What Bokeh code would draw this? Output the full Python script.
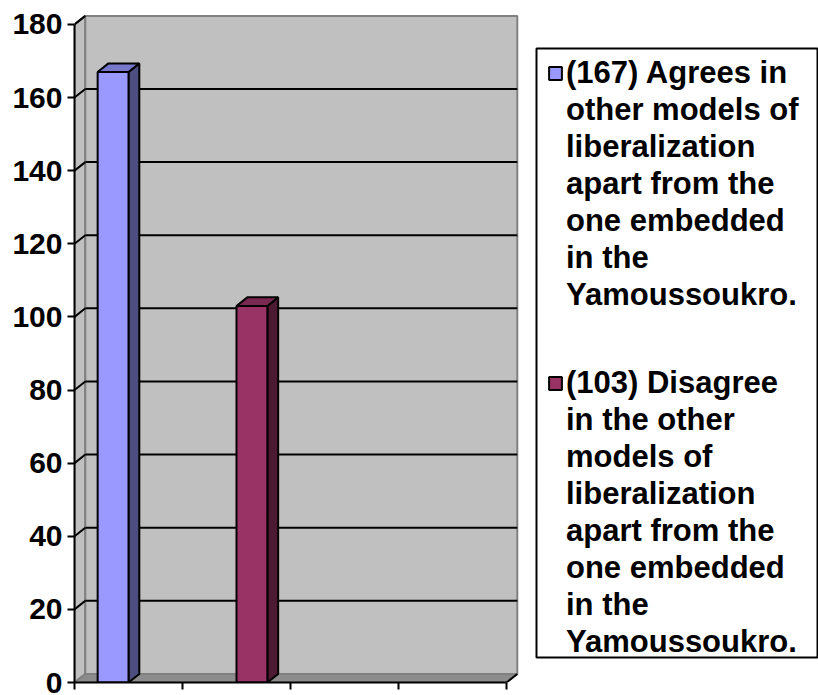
import math
from bokeh.plotting import figure
from bokeh.models import (Range1d, LinearAxis, FixedTicker, Legend, LegendItem,
                          ColumnDataSource, BoxAnnotation)
from bokeh.embed import file_html
from bokeh.resources import INLINE

# ---------------- data ----------------
categories = ["", "", "", ""]
series_labels = [
    "(167) Agrees in\nother models of\nliberalization\napart from the\none embedded\nin the\nYamoussoukro.",
    "(103) Disagree\nin the other\nmodels of\nliberalization\napart from the\none embedded\nin the\nYamoussoukro.",
]
agree_values = [167, None, None, None]
disagree_values = [None, 103, None, None]
y_ticks = [0, 20, 40, 60, 80, 100, 120, 140, 160, 180]

# ---------------- style / layout ----------------
FRONT = ["#9999FF", "#993366"]
SIDE = ["#4D4D80", "#4D1A33"]
TOP = ["#7777CC", "#7A2952"]
WALL = "#C0C0C0"
FLOOR = "#8C8C8C"
EDGE = "#808080"
FONT = "Liberation Sans"
DX = 0.10     # depth offset, category units
DY = 2.35     # depth offset, value units
N_SERIES = 2
GAP = 1.5     # gap width relative to bar width
BAR_W = 1.0 / (N_SERIES + GAP)
FRAME_L, FRAME_T, FRAME_B, FIG_W, FIG_H = 74, 13, 682, 818, 695
PX_PER_CAT = 108
Y_TOP = 183.0

y_max = y_ticks[-1]
n_cat = len(categories)
frame_w = FIG_W - FRAME_L
frame_h = FRAME_B - FRAME_T


def px_x(px):
    return (px - FRAME_L) / PX_PER_CAT


def px_y(py):
    return (FRAME_B - py) * Y_TOP / frame_h


p = figure(width=FIG_W, height=FIG_H, output_backend="svg", toolbar_location=None,
           x_range=Range1d(0, frame_w / PX_PER_CAT), y_range=Range1d(0, Y_TOP),
           min_border_left=FRAME_L, min_border_right=0, min_border_top=FRAME_T,
           min_border_bottom=FIG_H - FRAME_B, x_axis_type=None, y_axis_type=None)
p.outline_line_color = None
p.background_fill_color = "white"
p.border_fill_color = "white"
p.xgrid.visible = False
p.ygrid.visible = False

# side wall (left)
p.patch([0, DX, DX, 0], [0, DY, y_max + DY, y_max], fill_color=WALL,
        line_color=EDGE, line_width=2)
# back wall
p.patch([DX, n_cat + DX, n_cat + DX, DX], [DY, DY, y_max + DY, y_max + DY],
        fill_color=WALL, line_color=EDGE, line_width=2)
# floor
p.patch([0, n_cat, n_cat + DX, DX], [0, 0, DY, DY], fill_color=FLOOR,
        line_color=EDGE, line_width=2)
p.segment(x0=[n_cat], y0=[0], x1=[n_cat + DX], y1=[DY], line_color="black", line_width=2)

# gridlines on back wall and connectors on side wall
grid_vals = [t for t in y_ticks if 0 < t < y_max]
p.segment(x0=[DX] * len(grid_vals), y0=[v + DY for v in grid_vals],
          x1=[n_cat + DX] * len(grid_vals), y1=[v + DY for v in grid_vals],
          line_color="black", line_width=2)
conn_vals = [t for t in y_ticks if t > 0]
p.segment(x0=[0] * len(conn_vals), y0=conn_vals,
          x1=[DX] * len(conn_vals), y1=[v + DY for v in conn_vals],
          line_color="black", line_width=2)

# invisible renderer used for legend continuation lines
blank = p.scatter(x=[], y=[], size=1, fill_alpha=0, line_alpha=0)

# legend frame box
p.add_layout(BoxAnnotation(left=px_x(536), right=px_x(817), top=px_y(48), bottom=px_y(657),
                           fill_color="white", fill_alpha=1, line_color="black",
                           line_alpha=1, line_width=2))

# bars
bar_renderers = []
for k, vals in enumerate([agree_values, disagree_values]):
    lefts, rights, tops = [], [], []
    for i, v in enumerate(vals):
        if v is None:
            continue
        l = i + GAP * BAR_W / 2 + k * BAR_W
        lefts.append(l)
        rights.append(l + BAR_W)
        tops.append(v)
    p.patches([[r, r + DX, r + DX, r] for r in rights],
              [[0, DY, t + DY, t] for t, r in zip(tops, rights)],
              fill_color=SIDE[k], line_color="black", line_width=2)
    p.patches([[l, l + DX, r + DX, r] for l, r in zip(lefts, rights)],
              [[t, t + DY, t + DY, t] for t in tops],
              fill_color=TOP[k], line_color="black", line_width=2)
    src = ColumnDataSource(dict(x=[(l + r) / 2 for l, r in zip(lefts, rights)], top=tops))
    rnd = p.vbar(x="x", top="top", bottom=0, width=BAR_W, source=src,
                 fill_color=FRONT[k], line_color="black", line_width=2)
    bar_renderers.append(rnd)

# axes
yaxis = LinearAxis(ticker=FixedTicker(ticks=y_ticks), bounds=(0, y_max))
yaxis.axis_line_width = 2
yaxis.major_tick_line_width = 2
yaxis.major_tick_out = 7
yaxis.major_tick_in = 0
yaxis.minor_tick_line_color = None
yaxis.major_label_standoff = 5
yaxis.major_label_text_font = FONT
yaxis.major_label_text_font_style = "bold"
yaxis.major_label_text_font_size = "30px"
yaxis.major_label_text_color = "black"
p.add_layout(yaxis, "left")

xaxis = LinearAxis(ticker=FixedTicker(ticks=list(range(n_cat + 1))), bounds=(0, n_cat))
xaxis.axis_line_width = 2
xaxis.major_tick_line_width = 2
xaxis.major_tick_out = 7
xaxis.major_tick_in = 0
xaxis.minor_tick_line_color = None
xaxis.major_label_standoff = 0
xaxis.major_label_text_font_size = "1px"
xaxis.major_label_overrides = {i: " " for i in range(n_cat + 1)}
p.add_layout(xaxis, "below")

# legends: one per series, each line its own item so the swatch sits on the first line
legend_locs = [(547 - FRAME_L, FRAME_B - 313), (547 - FRAME_L, FRAME_B - 660)]
for k, rnd in enumerate(bar_renderers):
    lines = series_labels[k].split("\n")
    items = [LegendItem(label=lines[0], renderers=[rnd])]
    items += [LegendItem(label=ln, renderers=[blank]) for ln in lines[1:]]
    lg = Legend(items=items, location=legend_locs[k])
    lg.label_text_font = FONT
    lg.label_text_font_style = "bold"
    lg.label_text_font_size = "31px"
    lg.label_text_color = "black"
    lg.label_height = 16
    lg.glyph_width = 16
    lg.glyph_height = 16
    lg.label_standoff = 3
    lg.padding = 0
    lg.spacing = 1
    lg.margin = 0
    lg.border_line_color = None
    lg.background_fill_alpha = 0
    p.add_layout(lg, "center")

open("out.html", "w").write(file_html(p, INLINE))
